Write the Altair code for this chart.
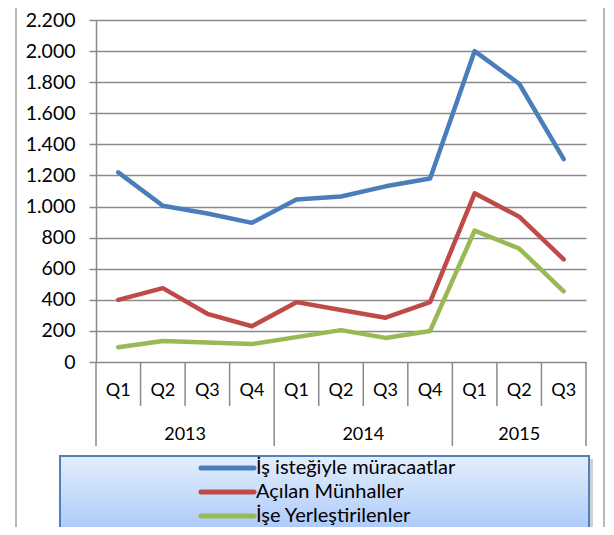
import altair as alt
import pandas as pd

# ---- data -------------------------------------------------------------
years = ["2013", "2013", "2013", "2013", "2014", "2014", "2014", "2014", "2015", "2015", "2015"]
quarters = ["Q1", "Q2", "Q3", "Q4", "Q1", "Q2", "Q3", "Q4", "Q1", "Q2", "Q3"]
series_names = ["İş isteğiyle müracaatlar", "Açılan Münhaller", "İşe Yerleştirilenler"]
is_istegiyle = [1220, 1005, 955, 895, 1045, 1065, 1130, 1180, 2000, 1790, 1305]
acilan_munhaller = [400, 475, 310, 230, 385, 335, 285, 385, 1085, 935, 660]
ise_yerlestirilenler = [95, 135, 125, 115, 160, 205, 155, 200, 845, 730, 455]
series_colors = ["#4a7ebb", "#be4b48", "#98b954"]
y_ticks = [0, 200, 400, 600, 800, 1000, 1200, 1400, 1600, 1800, 2000, 2200]

FONT = "Lato"
GRID = "#8a8a8a"
n = len(quarters)

rows = []
for name, vals in zip(series_names, [is_istegiyle, acilan_munhaller, ise_yerlestirilenler]):
    for i, v in enumerate(vals):
        rows.append({"series": name, "pos": i + 0.5, "value": v})
df = pd.DataFrame(rows)

q_df = pd.DataFrame({"pos": [i + 0.5 for i in range(n)], "label": quarters})
bounds_q, bounds_y = [], []
for i in range(n + 1):
    if i == 0 or i == n or years[i] != years[i - 1]:
        bounds_y.append(i)
    else:
        bounds_q.append(i)
year_rows = []
for k in range(len(bounds_y) - 1):
    s, e = bounds_y[k], bounds_y[k + 1]
    year_rows.append({"pos": (s + e) / 2, "label": years[s]})
yq_df = pd.DataFrame({"b": bounds_q})
yy_df = pd.DataFrame({"b": bounds_y})
yr_df = pd.DataFrame(year_rows)
leg_df = pd.DataFrame({"series": series_names})
one = pd.DataFrame({"a": [0]})

xscale = alt.Scale(domain=[0, n], nice=False, zero=False)
cscale = alt.Scale(domain=series_names, range=series_colors)

# ---- frame / legend box ------------------------------------------------
border = alt.Chart(pd.DataFrame({"px": [-80, 508]})).mark_rule(
    color="#a0a0a0", strokeWidth=1.5
).encode(x=alt.X("px:Q", scale=None), y=alt.value(-12), y2=alt.value(530))

shadow = alt.Chart(one).mark_rect(fill="#b0b0b0", opacity=0.6).encode(
    x=alt.value(-33), x2=alt.value(497), y=alt.value(439), y2=alt.value(530)
)
legbox = alt.Chart(one).mark_rect(
    fill=alt.LinearGradient(
        gradient="linear",
        stops=[alt.GradientStop(color="#e4eefd", offset=0),
               alt.GradientStop(color="#abc9fa", offset=1)],
        x1=0, x2=0, y1=0, y2=1,
    ),
    stroke="#4f81bd", strokeWidth=2,
).encode(x=alt.value(-36), x2=alt.value(493), y=alt.value(436), y2=alt.value(512))

# ---- category axis -----------------------------------------------------
q_rules = alt.Chart(yq_df).mark_rule(color=GRID, strokeWidth=1.5).encode(
    x=alt.X("b:Q", scale=xscale, axis=None), y=alt.value(342), y2=alt.value(386)
)
y_rules = alt.Chart(yy_df).mark_rule(color=GRID, strokeWidth=1.5).encode(
    x=alt.X("b:Q", scale=xscale, axis=None), y=alt.value(342), y2=alt.value(426)
)
q_text = alt.Chart(q_df).mark_text(
    font=FONT, fontSize=18, color="#000", baseline="middle", align="center"
).encode(x=alt.X("pos:Q", scale=xscale, axis=None), y=alt.value(371), text="label:N")
yr_text = alt.Chart(yr_df).mark_text(
    font=FONT, fontSize=18, color="#000", baseline="middle", align="center"
).encode(x=alt.X("pos:Q", scale=xscale, axis=None), y=alt.value(415), text="label:N")

# ---- lines ---------------------------------------------------------------
lines = alt.Chart(df).mark_line(strokeWidth=4.5, strokeCap="round", strokeJoin="round").encode(
    x=alt.X("pos:Q", scale=xscale, axis=None),
    y=alt.Y(
        "value:Q",
        scale=alt.Scale(domain=[0, 2200], nice=False),
        axis=alt.Axis(
            values=y_ticks, title=None, grid=True, gridColor=GRID, gridWidth=1.5,
            domainColor=GRID, domainWidth=1.5, tickColor=GRID, tickWidth=1.5,
            tickSize=7, labelPadding=14, labelFont=FONT, labelFontSize=19.5,
            labelColor="#000",
            labelExpr="replace(format(datum.value, ','), ',', '.')",
        ),
    ),
    color=alt.Color("series:N", scale=cscale, legend=None),
)

# ---- manual legend ------------------------------------------------------
leg_y = alt.Y("series:N", scale=alt.Scale(type="point", domain=series_names,
                                         range=[448, 496], padding=0), axis=None)
leg_lines = alt.Chart(leg_df).mark_rule(strokeWidth=5, strokeCap="round").encode(
    x=alt.value(105), x2=alt.value(158), y=leg_y,
    color=alt.Color("series:N", scale=cscale, legend=None),
)
leg_text = alt.Chart(leg_df).mark_text(
    font=FONT, fontSize=20, color="#000", align="left", baseline="middle"
).encode(x=alt.value(160), y=leg_y, text="series:N")

chart = alt.layer(
    border, shadow, legbox, q_rules, y_rules, q_text, yr_text, lines, leg_lines, leg_text
).resolve_scale(y="independent").properties(
    width=490, height=342,
    padding={"left": 88, "top": 12, "right": 20, "bottom": 165},
    autosize="none",
    background="white",
).configure_view(stroke=None)

chart.save("out.html", embed_options={"renderer": "svg", "actions": False})
